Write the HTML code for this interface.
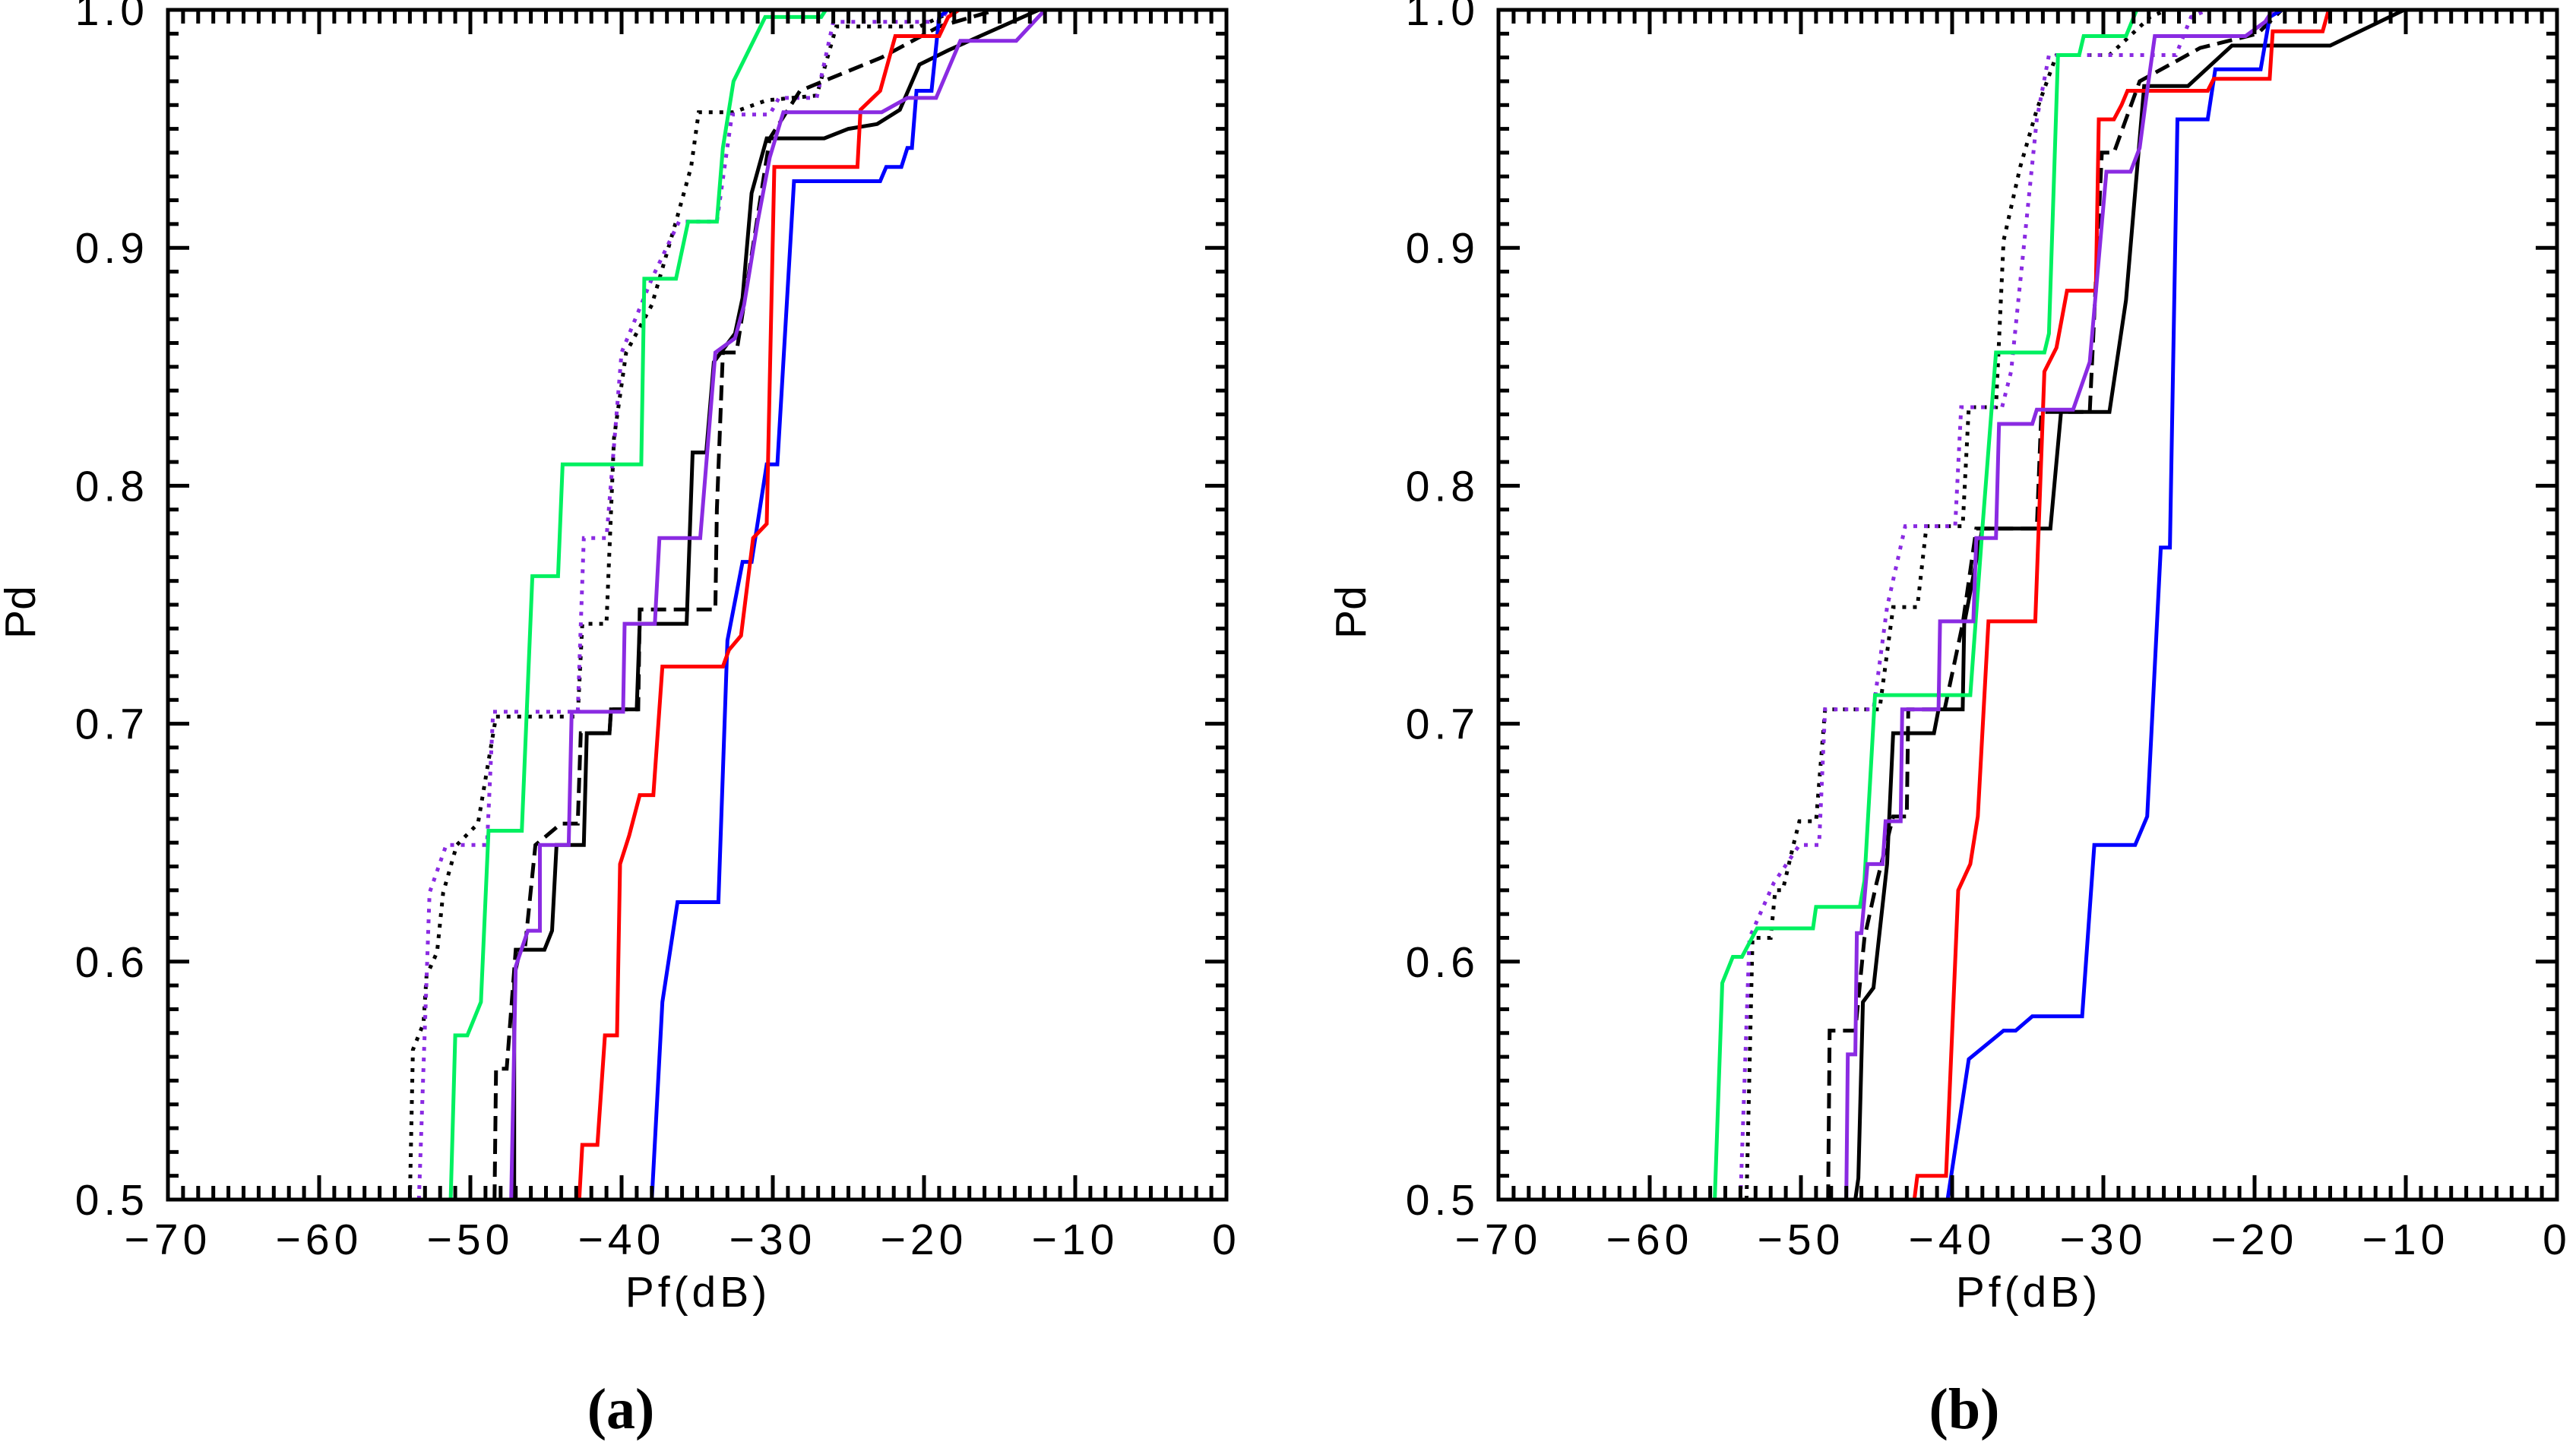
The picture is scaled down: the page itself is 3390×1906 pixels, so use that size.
<!DOCTYPE html>
<html><head><meta charset="utf-8"><style>
html,body{margin:0;padding:0;background:#fff;}
svg{display:block;}
text{font-family:"Liberation Sans",sans-serif;fill:#000;}
</style></head><body>
<svg id="fig" width="3390" height="1906" viewBox="0 0 3390 1906" xmlns="http://www.w3.org/2000/svg"></svg>
<script>
// ---- data (Pf dB, Pd) ----
const xTicks=[-70,-60,-50,-40,-30,-20,-10,0];
const yTicks=[0.5,0.6,0.7,0.8,0.9,1.0];
const yTickLabels=["0.5","0.6","0.7","0.8","0.9","1.0"];
const xTickLabels=["\u221270","\u221260","\u221250","\u221240","\u221230","\u221220","\u221210","0"];

const aGreenX=[-51.3,-51.0,-50.2,-49.3,-48.8,-46.6,-45.9,-44.2,-43.9,-38.7,-38.5,-36.4,-35.6,-33.7,-33.3,-32.6,-30.5,-26.8,-26.5,0];
const aGreenY=[0.5,0.569,0.569,0.583,0.655,0.655,0.762,0.762,0.809,0.809,0.887,0.887,0.911,0.911,0.942,0.97,0.997,0.997,1.0,1.0];
const aBlueX=[-38.0,-37.3,-36.3,-33.6,-33.0,-32.0,-31.4,-30.4,-29.7,-28.6,-22.9,-22.5,-21.5,-21.1,-20.8,-20.5,-19.5,-19.0,-18.4,0];
const aBlueY=[0.5,0.583,0.625,0.625,0.735,0.768,0.768,0.809,0.809,0.928,0.928,0.934,0.934,0.942,0.942,0.966,0.966,0.997,1.0,1.0];
const aRedX=[-42.8,-42.6,-41.6,-41.1,-40.3,-40.1,-39.5,-38.8,-37.9,-37.3,-33.3,-32.9,-32.1,-31.3,-30.4,-29.9,-24.4,-24.2,-22.9,-21.9,-19.0,-18.4,-17.7,0];
const aRedY=[0.5,0.523,0.523,0.569,0.569,0.641,0.653,0.670,0.670,0.724,0.724,0.731,0.737,0.778,0.784,0.934,0.934,0.958,0.966,0.989,0.989,0.997,1.0,1.0];
const aBlackX=[-47.1,-47.1,-46.7,-45.1,-44.6,-44.3,-42.5,-42.3,-40.8,-40.7,-39.0,-38.8,-35.7,-35.3,-34.4,-33.9,-32.5,-32.0,-31.4,-30.4,-26.6,-25.0,-23.1,-21.6,-20.3,-18.4,-12.4,0];
const aBlackY=[0.5,0.594,0.605,0.605,0.613,0.649,0.649,0.696,0.696,0.706,0.706,0.742,0.742,0.814,0.814,0.852,0.864,0.879,0.923,0.946,0.946,0.950,0.952,0.958,0.977,0.983,1.0,1.0];
const aDashX=[-48.4,-48.3,-47.6,-47.0,-46.4,-45.7,-44.0,-42.9,-42.7,-40.8,-40.7,-38.9,-38.8,-33.8,-33.7,-33.3,-32.4,-30.2,-28.2,-22.8,-19.0,-15.2,0];
const aDashY=[0.5,0.555,0.555,0.605,0.605,0.649,0.658,0.658,0.696,0.696,0.706,0.706,0.748,0.748,0.79,0.856,0.856,0.946,0.966,0.980,0.993,1.0,1.0];
const aDotX=[-54.0,-53.8,-53.1,-52.9,-52.2,-51.8,-50.9,-49.5,-48.3,-42.9,-42.6,-41.0,-40.5,-39.7,-38.0,-36.4,-35.4,-34.9,-32.6,-30.4,-27.1,-25.8,-20.3,-17.9,0];
const aDotY=[0.5,0.563,0.574,0.594,0.604,0.629,0.649,0.658,0.703,0.703,0.742,0.742,0.82,0.856,0.876,0.911,0.934,0.957,0.957,0.962,0.964,0.993,0.993,1.0,1.0];
const aPDotX=[-53.4,-52.7,-51.6,-48.9,-48.5,-42.9,-42.5,-41.0,-40.0,-38.0,-36.2,-33.7,-32.7,-30.2,-29.6,-27.1,-26.0,-19.0,-18.4,0];
const aPDotY=[0.5,0.629,0.649,0.649,0.705,0.705,0.778,0.778,0.856,0.887,0.911,0.911,0.956,0.956,0.963,0.963,0.995,0.995,1.0,1.0];
const aPurpleX=[-47.3,-47.0,-46.2,-45.4,-45.4,-43.5,-43.3,-39.9,-39.8,-37.8,-37.5,-34.8,-33.8,-32.5,-31.9,-31.0,-30.2,-29.3,-22.8,-21.1,-19.2,-17.6,-13.9,-12.0,0];
const aPurpleY=[0.5,0.598,0.613,0.613,0.649,0.649,0.705,0.705,0.742,0.742,0.778,0.778,0.856,0.862,0.876,0.911,0.938,0.957,0.957,0.963,0.963,0.987,0.987,1.0,1.0];

const bGreenX=[-55.7,-55.2,-54.5,-53.9,-52.9,-49.2,-49.0,-46.1,-45.8,-45.1,-38.8,-38.0,-37.1,-33.9,-33.6,-33.0,-31.6,-31.3,-28.5,-27.8,0];
const bGreenY=[0.5,0.591,0.602,0.602,0.614,0.614,0.623,0.623,0.634,0.712,0.712,0.782,0.856,0.856,0.864,0.981,0.981,0.989,0.989,1.0,1.0];
const bBlueX=[-40.3,-38.9,-36.6,-35.8,-34.7,-31.4,-30.6,-27.9,-27.1,-26.2,-25.6,-25.1,-23.1,-22.6,-19.6,-19.0,-18.2,0];
const bBlueY=[0.5,0.559,0.571,0.571,0.577,0.577,0.649,0.649,0.661,0.774,0.774,0.954,0.954,0.975,0.975,0.997,1.0,1.0];
const bRedX=[-42.5,-42.3,-40.4,-39.6,-38.8,-38.3,-37.6,-34.5,-33.9,-33.1,-32.4,-30.5,-30.3,-29.3,-28.8,-28.4,-23.1,-22.7,-19.0,-18.8,-15.5,-15.1,0];
const bRedY=[0.5,0.51,0.51,0.63,0.641,0.661,0.743,0.743,0.848,0.858,0.882,0.882,0.954,0.954,0.960,0.966,0.966,0.971,0.971,0.991,0.991,1.0,1.0];
const bBlackX=[-46.4,-46.2,-45.9,-45.2,-44.3,-43.9,-41.2,-40.9,-39.3,-39.2,-38.0,-33.5,-32.8,-29.6,-28.5,-27.3,-24.4,-21.5,-15.0,-10.1,0];
const bBlackY=[0.5,0.509,0.583,0.589,0.641,0.696,0.696,0.706,0.706,0.742,0.782,0.782,0.831,0.831,0.878,0.968,0.968,0.985,0.985,1.0,1.0];
const bDashX=[-48.2,-48.1,-46.4,-45.8,-45.0,-43.9,-43.0,-42.9,-40.5,-39.3,-38.4,-34.4,-34.1,-30.9,-30.1,-29.3,-27.6,-23.6,-19.8,-18.2,0];
const bDashY=[0.5,0.571,0.571,0.61,0.633,0.661,0.661,0.706,0.706,0.742,0.782,0.782,0.831,0.831,0.94,0.94,0.97,0.984,0.99,1.0,1.0];
const bDotX=[-53.6,-53.2,-52.0,-51.7,-51.2,-50.5,-50.1,-49.0,-48.4,-44.8,-43.9,-42.3,-41.7,-39.3,-38.9,-37.1,-36.6,-35.5,-34.4,-33.1,-29.6,-26.9,-25.8,0];
const bDotY=[0.5,0.61,0.61,0.63,0.63,0.649,0.659,0.659,0.706,0.706,0.749,0.749,0.783,0.783,0.833,0.833,0.903,0.934,0.958,0.981,0.981,0.997,1.0,1.0];
const bPDotX=[-54.0,-53.4,-51.8,-50.1,-48.8,-48.4,-45.2,-44.3,-43.1,-39.8,-39.4,-36.7,-36.1,-34.4,-33.6,-25.2,-24.2,-23.1,0];
const bPDotY=[0.5,0.61,0.633,0.649,0.649,0.706,0.706,0.749,0.783,0.783,0.833,0.833,0.848,0.954,0.981,0.981,0.997,1.0,1.0];
const bPurpleX=[-47.0,-46.9,-46.4,-46.3,-46.0,-45.6,-44.6,-44.4,-43.4,-43.3,-40.9,-40.8,-38.6,-38.4,-37.1,-36.9,-34.7,-34.4,-32.0,-30.9,-29.8,-28.2,-27.6,-27.1,-26.6,-20.6,-19.3,-18.8,0];
const bPurpleY=[0.5,0.561,0.561,0.612,0.612,0.641,0.641,0.659,0.659,0.706,0.706,0.743,0.743,0.778,0.778,0.826,0.826,0.832,0.832,0.852,0.932,0.932,0.942,0.966,0.989,0.989,0.995,1.0,1.0];

const NS="http://www.w3.org/2000/svg";
const svg=document.getElementById('fig');
function mk(tag,attrs,parent){const e=document.createElementNS(NS,tag);for(const k in attrs)e.setAttribute(k,attrs[k]);(parent||svg).appendChild(e);return e;}

function panel(id,L,R,T,B,labelCx,series,letter){
  const g=mk('g',{});
  
  
  const xs=v=>L+(v+70)/70*(R-L);
  const ys=v=>B-(v-0.5)/0.5*(B-T);
  // clip
  const cp=mk('clipPath',{id:id+'-clip'},g);
  mk('rect',{x:L,y:T-3,width:R-L,height:B-T+6},cp);
  const lines=mk('g',{'clip-path':'url(#'+id+'-clip)'},g);
  
  
  series.forEach(s=>{
    const pts=s.x.map((v,i)=>xs(v).toFixed(1)+','+ys(s.y[i]).toFixed(1)).join(' ');
    const p=mk('polyline',{points:pts,fill:'none',stroke:s.c,'stroke-width':5,'stroke-linejoin':'miter'},lines);
    if(s.d)p.setAttribute('stroke-dasharray',s.d);
    
    
  });
  // frame
  const fr=mk('rect',{x:L,y:T,width:R-L,height:B-T,fill:'none',stroke:'#000','stroke-width':5},g);
  
  
  // ticks
  const tk=mk('g',{stroke:'#000','stroke-width':5},g);
  
  
  for(let v=-70;v<=0;v++){
    const x=xs(v);const len=(v%10===0)?32:18;
    mk('line',{x1:x,y1:B,x2:x,y2:B-len},tk);
    mk('line',{x1:x,y1:T,x2:x,y2:T+len},tk);
  }
  for(let i=0;i<=50;i++){
    const v=0.5+i*0.01;const y=ys(v);const len=(i%10===0)?28:14;
    mk('line',{x1:L,y1:y,x2:L+len,y2:y},tk);
    mk('line',{x1:R,y1:y,x2:R-len,y2:y},tk);
  }
  xTicks.forEach((v,i)=>{
    const t=mk('text',{x:xs(v),y:1651,'text-anchor':'middle','font-size':57,'letter-spacing':6},g);
    t.textContent=xTickLabels[i];
    
    
  });
  yTicks.forEach((v,i)=>{
    const t=mk('text',{x:L-25,y:ys(v)+20,'text-anchor':'end','font-size':57,'letter-spacing':6},g);
    t.textContent=yTickLabels[i];
    
    
  });
  const xt=mk('text',{x:(L+R)/2+1,y:1720,'text-anchor':'middle','font-size':57,'letter-spacing':5},g);
  xt.textContent='Pf(dB)';
  
  
  const yx=L-175,yy=(T+B)/2+10;
  const yt=mk('text',{x:yx,y:yy,'text-anchor':'middle','font-size':57,transform:'rotate(-90 '+yx+' '+yy+')'},g);
  yt.textContent='Pd';
  
  
  const cap=mk('text',{x:labelCx,y:1880,'text-anchor':'middle','font-size':76,'font-weight':'bold','font-family':'Liberation Serif, serif'},g);
  cap.setAttribute('style','font-family:"Liberation Serif",serif');
  cap.textContent=letter;
  
  
}
const dot='5 9', dash='20 10';
panel('panel-a',221,1614,13,1579,817,[
  {x:aDotX,y:aDotY,c:'#000',d:dot,n:'black-dotted-curve'},
  {x:aPDotX,y:aPDotY,c:'#8a2be2',d:dot,n:'purple-dotted-curve'},
  {x:aDashX,y:aDashY,c:'#000',d:dash,n:'black-dashed-curve'},
  {x:aBlackX,y:aBlackY,c:'#000',n:'black-solid-curve'},
  {x:aBlueX,y:aBlueY,c:'#0000ff',n:'blue-curve'},
  {x:aRedX,y:aRedY,c:'#ff0000',n:'red-curve'},
  {x:aGreenX,y:aGreenY,c:'#00f060',n:'green-curve'},
  {x:aPurpleX,y:aPurpleY,c:'#8a2be2',n:'purple-solid-curve'}
],'(a)');
panel('panel-b',1972,3365,13,1579,2585,[
  {x:bDotX,y:bDotY,c:'#000',d:dot,n:'black-dotted-curve'},
  {x:bPDotX,y:bPDotY,c:'#8a2be2',d:dot,n:'purple-dotted-curve'},
  {x:bDashX,y:bDashY,c:'#000',d:dash,n:'black-dashed-curve'},
  {x:bBlackX,y:bBlackY,c:'#000',n:'black-solid-curve'},
  {x:bBlueX,y:bBlueY,c:'#0000ff',n:'blue-curve'},
  {x:bRedX,y:bRedY,c:'#ff0000',n:'red-curve'},
  {x:bGreenX,y:bGreenY,c:'#00f060',n:'green-curve'},
  {x:bPurpleX,y:bPurpleY,c:'#8a2be2',n:'purple-solid-curve'}
],'(b)');
</script>
</body></html>
